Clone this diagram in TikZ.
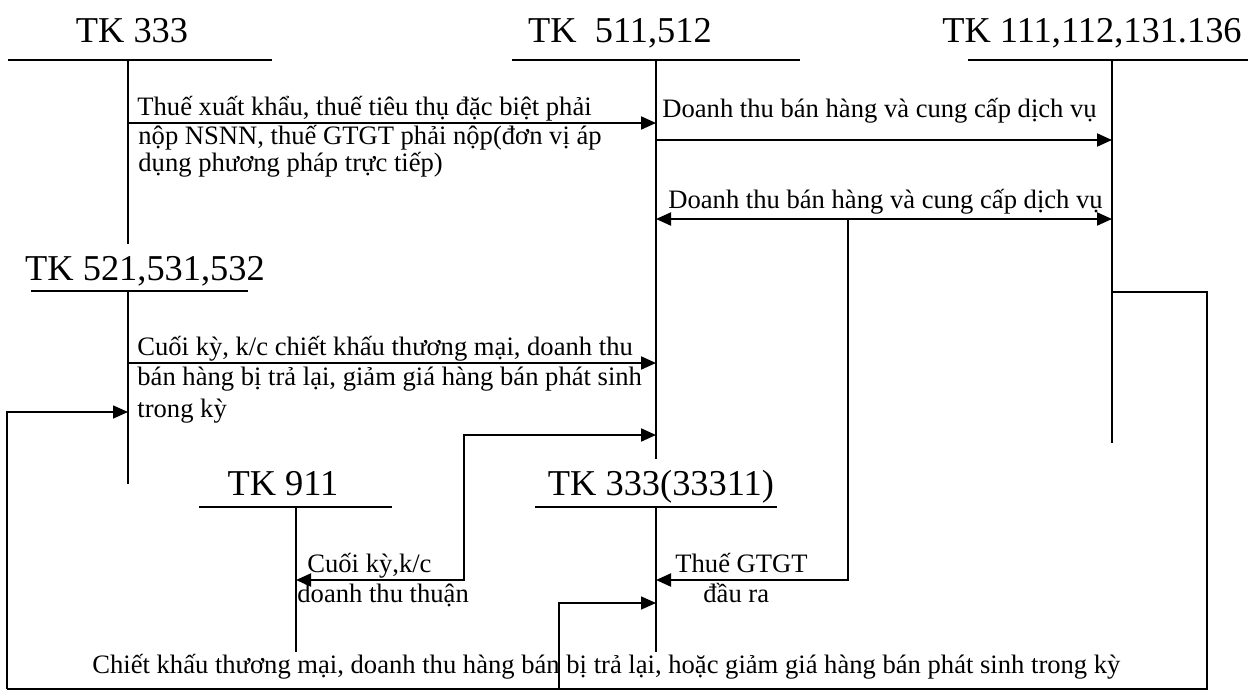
\documentclass[tikz,border=0pt]{standalone}
\usepackage{fontspec}
\setmainfont{Liberation Serif}
\usetikzlibrary{arrows.meta}

\tikzset{
  acct/.style={font=\fontsize{18.2}{20}\selectfont, anchor=base, inner sep=0pt},
  note/.style={font=\fontsize{13.3}{15}\selectfont, anchor=base west, inner sep=0pt},
  tline/.style={line width=0.8pt},
  flow/.style={line width=1pt, -{Triangle[length=7.5pt,width=6.5pt]}},
  flows/.style={line width=1pt, {Triangle[length=7.5pt,width=6.5pt]}-{Triangle[length=7.5pt,width=6.5pt]}},
  loop/.style={line width=0.8pt},
}

\begin{document}
\begin{tikzpicture}[x=0.5pt, y=-0.5pt]
  \useasboundingbox (0,0) rectangle (1248,691);
  % T accounts: name/title/centre/baseline/rule y/rule from/rule to/stem x/stem end
  \foreach \nm/\txt/\cx/\by/\ry/\xa/\xb/\vx/\vy in {
      t333/{TK 333}/132/42/60/8/272/128/244,
      t511/{TK~~511,512}/620/42/60/512/800/656/459,
      t111/{TK 111,112,131.136}/1092/42/60/968/1248/1112/443,
      t521/{TK 521,531,532}/145/280/291/31/248/128/484,
      t911/{TK 911}/283/495/507/199/392/296/652,
      t3331/{TK 333(33311)}/661/495/507/535/777/656/652}
  {
    \node[acct] (\nm) at (\cx,\by) {\txt};
    \draw[tline] (\xa,\ry) -- (\xb,\ry) (\vx,\ry) -- (\vx,\vy);
  }

  % connector ends
  \coordinate (a1) at (128,123);  \coordinate (a2) at (656,123);
  \coordinate (b1) at (656,140);  \coordinate (b2) at (1112,140);
  \coordinate (c1) at (656,219);  \coordinate (c2) at (1112,219);
  \coordinate (c3) at (848,219);  \coordinate (c4) at (656,580);
  \coordinate (d1) at (128,363);  \coordinate (d2) at (656,363);
  \coordinate (e1) at (296,580);  \coordinate (e2) at (464,580);
  \coordinate (e3) at (464,435);  \coordinate (e4) at (656,435);
  \coordinate (f1) at (1112,292); \coordinate (f2) at (1207,689);
  \coordinate (f3) at (7,689);    \coordinate (f4) at (128,412);
  \coordinate (f5) at (559,689);  \coordinate (f6) at (656,603);

  \draw[flow] (a1) -- (a2);
  \draw[flow] (b1) -- (b2);
  \draw[flows] (c1) -- (c2);
  \draw[flow] (c3) |- (c4);
  \draw[flow] (d1) -- (d2);
  \draw[flows] (e1) -- (e2) |- (e4);
  \draw[loop] (f1) -| (f2) -- (f3);
  \draw[flow, loop] (f3) |- (f4);
  \draw[flow, loop] (f5) |- (f6);

  % texts
  \node[note] (na1) at (137,115) {Thuế xuất khẩu, thuế tiêu thụ đặc biệt phải};
  \node[note] (na2) at (138,144) {nộp NSNN, thuế GTGT phải nộp(đơn vị áp};
  \node[note] (na3) at (138,171) {dụng phương pháp trực tiếp)};
  \node[note] (nb) at (662,117) {Doanh thu bán hàng và cung cấp dịch vụ};
  \node[note] (nc) at (668,208) {Doanh thu bán hàng và cung cấp dịch vụ};
  \node[note] (nd1) at (137,355) {Cuối kỳ, k/c chiết khấu thương mại, doanh thu};
  \node[note] (nd2) at (137,385) {bán hàng bị trả lại, giảm giá hàng bán phát sinh};
  \node[note] (nd3) at (137,417) {trong kỳ};
  \node[note] (ne1) at (307,572) {Cuối kỳ,k/c};
  \node[note] (ne2) at (297,602) {doanh thu thuận};
  \node[note] (ng1) at (675,572) {Thuế GTGT};
  \node[note] (ng2) at (703,602) {đầu ra};
  \node[note] (nf) at (92,673) {Chiết khấu thương mại, doanh thu hàng bán bị trả lại, hoặc giảm giá hàng bán phát sinh trong kỳ};
\end{tikzpicture}
\end{document}
